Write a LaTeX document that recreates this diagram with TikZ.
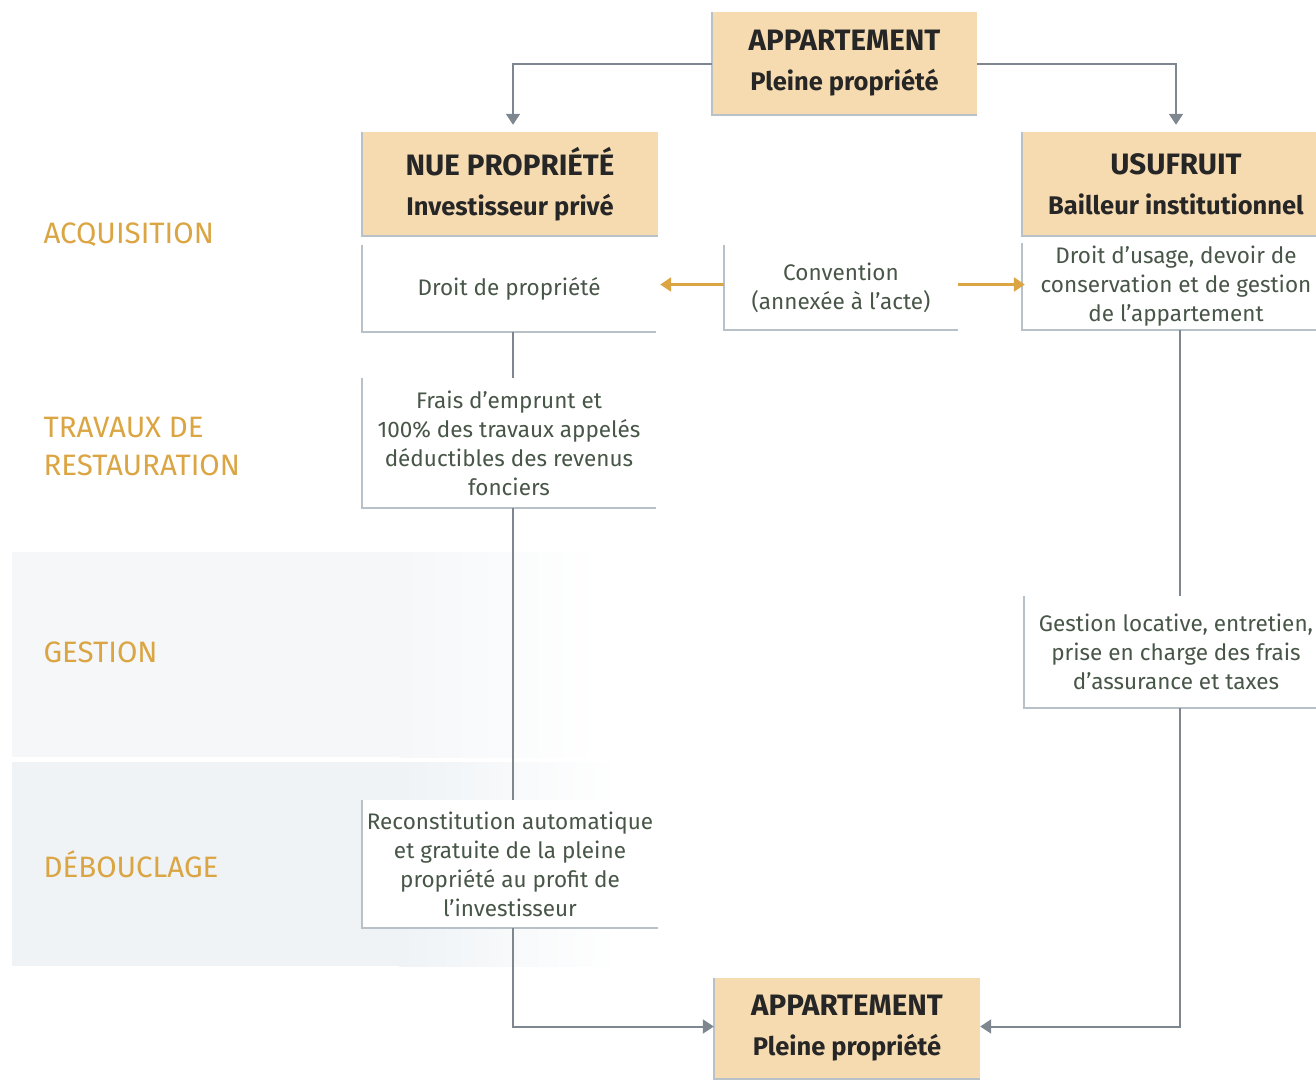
\documentclass[tikz,border=0pt]{standalone}
\usepackage{fontspec}
\setmainfont{Fira Sans}
\usepackage{tikz}
\usetikzlibrary{arrows.meta, positioning, calc}

\definecolor{tan}{RGB}{246,219,176}
\definecolor{gold}{RGB}{218,165,66}
\definecolor{wire}{RGB}{126,135,144}
\definecolor{rimgrey}{RGB}{184,192,200}
\definecolor{inktext}{RGB}{72,86,72}
\definecolor{bandA}{RGB}{245,247,249}
\definecolor{bandB}{RGB}{239,243,246}

% caps line and subline of the tan boxes
\newcommand{\headcaps}[1]{{\fontsize{29.5}{40}\selectfont #1}}
\newcommand{\headsub}[1]{{\fontsize{25.5}{40}\selectfont #1}}

\tikzset{
    head/.style={fill=tan, align=center, inner sep=0pt,
        font=\fontsize{25.5}{40}\selectfont\bfseries, text=black!85},
    info/.style={fill=white, align=center, inner sep=0pt,
        font=\fontsize{22.5}{29}\selectfont, text=inktext},
    phase/.style={anchor=west, align=left, text=gold,
        font=\fontsize{29.5}{38}\selectfont},
    rim/.style={rimgrey, line width=1.6pt},
    wireline/.style={wire, line width=2pt},
    wirearrow/.style={wire, line width=2pt, -{Triangle[width=14pt,length=11pt]}},
    goldarrow/.style={gold, line width=2.4pt, -{Triangle[width=14pt,length=11pt]}}
}

\begin{document}
\begin{tikzpicture}[x=1pt, y=-1pt]
    \useasboundingbox (0,0) rectangle (1316,1079);
    \clip (0,0) rectangle (1316,1079);

    % bands behind the lower phases
    \fill[bandA] (12,552) rectangle (400,757);
    \shade[left color=bandA, right color=white] (399,552) rectangle (600,757);
    \fill[bandB] (12,762) rectangle (400,966);
    \shade[left color=bandB, right color=white] (399,762) rectangle (620,966);

    % phases
    \node[phase] (acq) at (40,235) {ACQUISITION};
    \node[phase] (trav) at (40,447) {TRAVAUX DE\\RESTAURATION};
    \node[phase] (gest) at (40,652) {GESTION};
    \node[phase] (deb) at (40,864) {DÉBOUCLAGE};

    % boxes
    \node[head, minimum width=265, minimum height=103] (top) at (844.5,63.5)
        {\headcaps{APPARTEMENT}\\\headsub{Pleine propriété}};
    \node[head, minimum width=296, minimum height=104] (nue) at (510,184)
        {\headcaps{NUE PROPRIÉTÉ}\\\headsub{Investisseur privé}};
    \node[head, minimum width=308, minimum height=104] (usu) at (1176,184)
        {\headcaps{USUFRUIT}\\\headsub{Bailleur institutionnel}};
    \node[info, minimum width=294, minimum height=87] (droitp) at (509,288.5)
        {Droit de propriété};
    \node[info, minimum width=234, minimum height=85] (conv) at (841,287.5)
        {Convention\\(annexée à l’acte)};
    \node[info, minimum width=308, minimum height=87] (droitu) at (1176,286.5)
        {Droit d’usage, devoir de\\conservation et de gestion\\de l’appartement};
    \node[info, minimum width=294, minimum height=130] (frais) at (509,443)
        {Frais d’emprunt et\\100\% des travaux appelés\\déductibles des revenus\\fonciers};
    \node[info, minimum width=304, minimum height=112] (gestloc) at (1176,652)
        {Gestion locative, entretien,\\prise en charge des frais\\d’assurance et taxes};
    \node[info, minimum width=296, minimum height=128] (recon) at (510,864)
        {Reconstitution automatique\\et gratuite de la pleine\\propriété au profit de\\l’investisseur};
    \node[head, minimum width=266, minimum height=101] (bottom) at (847,1028.5)
        {\headcaps{APPARTEMENT}\\\headsub{Pleine propriété}};

    % grey rims left and below
    \foreach \n in {top, nue, usu, droitp, conv, droitu, frais, gestloc, recon, bottom}
        \draw[rim] (\n.north west) -- (\n.south west) -- (\n.south east);

    % connectors
    \draw[wirearrow] (top.west) -| ($(nue.north)+(3,-7)$);
    \draw[wirearrow] (top.east) -| ($(usu.north)+(0,-7)$);
    \draw[wireline] ($(droitp.south)+(4,0)$) -- ($(frais.north)+(4,0)$);
    \draw[wireline] ($(frais.south)+(4,0)$) -- ($(recon.north)+(3,0)$);
    \draw[wireline] ($(droitu.south)+(4,0)$) -- ($(gestloc.north)+(4,0)$);
    \draw[wirearrow] ($(recon.south)+(3,0)$) |- ($(bottom.west)+(0,-2)$);
    \draw[wirearrow] ($(gestloc.south)+(4,0)$) |- ($(bottom.east)+(0,-2)$);
    \draw[goldarrow] ($(conv.west)+(0,-3)$) -- ($(droitp.east |- conv.west)+(4,-3)$);
    \draw[goldarrow] ($(conv.east)+(0,-3)$) -- ($(droitu.west |- conv.west)+(3,-3)$);
\end{tikzpicture}
\end{document}
